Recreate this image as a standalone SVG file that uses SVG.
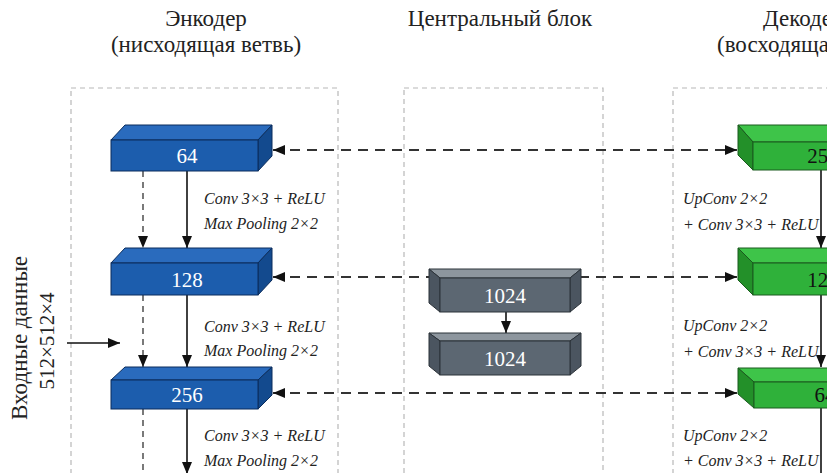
<svg xmlns="http://www.w3.org/2000/svg" width="827" height="473" viewBox="0 0 827 473">
<defs>
<marker id="ah" viewBox="0 0 12 10" refX="12" refY="5" markerWidth="12" markerHeight="10" markerUnits="userSpaceOnUse" orient="auto">
<path d="M0,0 L12,5 L0,10 Z" fill="#111"/>
</marker>
<marker id="ahs" viewBox="0 0 12 10" refX="12" refY="5" markerWidth="12" markerHeight="10" markerUnits="userSpaceOnUse" orient="auto-start-reverse">
<path d="M0,0 L12,5 L0,10 Z" fill="#111"/>
</marker>
</defs>
<style>
.title{font-family:'Liberation Serif','DejaVu Serif',serif;font-size:23px;fill:#222}
.inp{font-family:'Liberation Serif','DejaVu Serif',serif;fill:#222}
.lbl{font-family:'Liberation Serif','DejaVu Serif',serif;font-size:16px;font-style:italic;fill:#222}
.num{font-family:'Liberation Serif','DejaVu Serif',serif;font-size:21px;text-anchor:middle}
.zone{fill:none;stroke:#b8b8b8;stroke-width:1.2;stroke-dasharray:5 4}
.bf{fill:#1c5dad;stroke:#0b2d5c;stroke-width:1}
.bt{fill:#2a6bbd;stroke:#0b2d5c;stroke-width:1}
.bs{fill:#134a8e;stroke:#0b2d5c;stroke-width:1}
.gf{fill:#5c6772;stroke:#2b3238;stroke-width:1}
.gt{fill:#8d969e;stroke:#2b3238;stroke-width:1}
.gs{fill:#4b5560;stroke:#2b3238;stroke-width:1}
.nf{fill:#2fb13a;stroke:#1a5a1e;stroke-width:1}
.nt{fill:#3ec449;stroke:#1a5a1e;stroke-width:1}
.ns{fill:#239029;stroke:#1a5a1e;stroke-width:1}
.solid{stroke:#111;stroke-width:1.6;fill:none}
.skip{stroke:#333;stroke-width:2.2;fill:none;stroke-dasharray:10 7}
.vdash{stroke:#333;stroke-width:1.3;fill:none;stroke-dasharray:6 5}
</style>

<g id="titles">
<text class="title" x="206" y="26" text-anchor="middle">Энкодер</text>
<text class="title" x="206" y="52" text-anchor="middle">(нисходящая ветвь)</text>
<text class="title" x="500" y="26" text-anchor="middle">Центральный блок</text>
<text class="title" x="763" y="26">Декодер</text>
<text class="title" x="717" y="52">(восходящая ветвь)</text>
</g>

<g id="zones">
<rect class="zone" x="71" y="88" width="267" height="430"/>
<rect class="zone" x="404" y="88" width="199" height="430"/>
<rect class="zone" x="673" y="88" width="267" height="430"/>
</g>

<g id="connectors">
<line class="skip" x1="273" y1="150" x2="737" y2="150" marker-start="url(#ahs)" marker-end="url(#ah)"/>
<line class="skip" x1="273" y1="277" x2="737" y2="277" marker-start="url(#ahs)" marker-end="url(#ah)"/>
<line class="skip" x1="273" y1="393" x2="737" y2="393" marker-start="url(#ahs)" marker-end="url(#ah)"/>
<line class="solid" x1="187" y1="171" x2="187" y2="248" marker-end="url(#ah)"/>
<line class="solid" x1="187" y1="295" x2="187" y2="367" marker-end="url(#ah)"/>
<line class="solid" x1="187" y1="409" x2="187" y2="474" marker-end="url(#ah)"/>
<line class="vdash" x1="143" y1="171" x2="143" y2="248" marker-end="url(#ah)"/>
<line class="vdash" x1="143" y1="295" x2="143" y2="367" marker-end="url(#ah)"/>
<line class="vdash" x1="143" y1="409" x2="143" y2="480"/>
<line class="solid" x1="506" y1="312" x2="506" y2="333" marker-end="url(#ah)"/>
<line class="solid" x1="821" y1="170" x2="821" y2="248" marker-end="url(#ah)"/>
<line class="solid" x1="821" y1="295" x2="821" y2="367" marker-end="url(#ah)"/>
<line class="solid" x1="821" y1="408" x2="821" y2="480"/>
<line class="solid" x1="67" y1="343" x2="120" y2="343" marker-end="url(#ah)"/>
</g>

<g id="input-label">
<text class="inp" font-size="23" transform="translate(27,338) rotate(-90)" text-anchor="middle">Входные данные</text>
<text class="inp" font-size="21" transform="translate(54,341) rotate(-90)" text-anchor="middle">512×512×4</text>
</g>

<g id="enc-64">
<polygon class="bt" points="111,140 125,125 272,125 258,140"/>
<polygon class="bs" points="258,140 272,125 272,156 258,171"/>
<rect class="bf" x="111" y="140" width="147" height="31"/>
<text class="num" x="187" y="163" fill="#fff">64</text>
</g>
<g id="enc-128">
<polygon class="bt" points="111,263 125,248 272,248 258,263"/>
<polygon class="bs" points="258,263 272,248 272,280 258,295"/>
<rect class="bf" x="111" y="263" width="147" height="32"/>
<text class="num" x="187" y="287" fill="#fff">128</text>
</g>
<g id="enc-256">
<polygon class="bt" points="111,380 125,367 272,367 258,380"/>
<polygon class="bs" points="258,380 272,367 272,395 258,409"/>
<rect class="bf" x="111" y="380" width="147" height="29"/>
<text class="num" x="187" y="402" fill="#fff">256</text>
</g>

<g id="enc-labels">
<text class="lbl" x="204" y="204">Conv 3×3 + ReLU</text>
<text class="lbl" x="204" y="229">Max Pooling 2×2</text>
<text class="lbl" x="204" y="332">Conv 3×3 + ReLU</text>
<text class="lbl" x="204" y="356">Max Pooling 2×2</text>
<text class="lbl" x="204" y="441">Conv 3×3 + ReLU</text>
<text class="lbl" x="204" y="466">Max Pooling 2×2</text>
</g>

<g id="center-1024a">
<polygon class="gt" points="429,269 581,269 570,278 440,278"/>
<polygon class="gs" points="429,269 440,278 440,312 429,303"/>
<polygon class="gs" points="581,269 570,278 570,312 581,303"/>
<rect class="gf" x="440" y="278" width="130" height="34"/>
<text class="num" x="505" y="303" fill="#fff" font-size="23">1024</text>
</g>
<g id="center-1024b">
<polygon class="gt" points="429,333 581,333 570,341 440,341"/>
<polygon class="gs" points="429,333 440,341 440,375 429,366"/>
<polygon class="gs" points="581,333 570,341 570,375 581,366"/>
<rect class="gf" x="440" y="341" width="130" height="34"/>
<text class="num" x="505" y="366" fill="#fff" font-size="23">1024</text>
</g>

<g id="dec-256">
<polygon class="nt" points="738,125 860,125 860,142 753,142"/>
<polygon class="ns" points="738,125 753,142 753,170 738,155"/>
<rect class="nf" x="753" y="142" width="120" height="28"/>
<text class="num" x="823" y="163" fill="#111">256</text>
</g>
<g id="dec-128">
<polygon class="nt" points="738,248 860,248 860,263 753,263"/>
<polygon class="ns" points="738,248 753,263 753,295 738,280"/>
<rect class="nf" x="753" y="263" width="120" height="32"/>
<text class="num" x="823" y="287" fill="#111">128</text>
</g>
<g id="dec-64">
<polygon class="nt" points="738,368 860,368 860,382 754,382"/>
<polygon class="ns" points="738,368 754,382 754,408 738,394"/>
<rect class="nf" x="754" y="382" width="120" height="26"/>
<text class="num" x="825" y="402" fill="#111">64</text>
</g>

<g id="dec-labels">
<text class="lbl" x="683" y="204">UpConv 2×2</text>
<text class="lbl" x="683" y="230">+ Conv 3×3 + ReLU</text>
<text class="lbl" x="683" y="331">UpConv 2×2</text>
<text class="lbl" x="683" y="357">+ Conv 3×3 + ReLU</text>
<text class="lbl" x="683" y="441">UpConv 2×2</text>
<text class="lbl" x="683" y="466">+ Conv 3×3 + ReLU</text>
</g>
</svg>
